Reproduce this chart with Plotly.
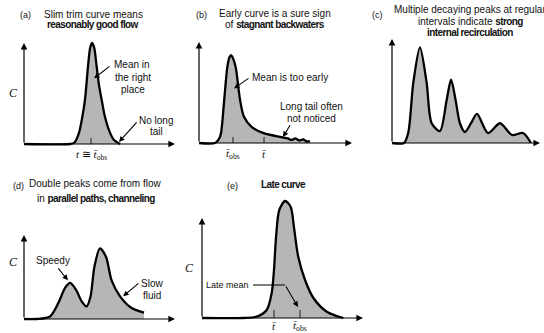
import plotly.graph_objects as go

W, H = 544, 333

# ---------------- data (t, C) ----------------
a_t = [0.0, 3.05, 3.35, 3.64, 3.84, 4.04, 4.24, 4.38, 4.50, 4.64, 4.81, 4.97, 5.14, 5.36, 5.70, 5.96, 6.36]
a_C = [0.0, 0.0, 0.015, 0.11, 0.25, 0.44, 0.77, 0.95, 1.0, 0.96, 0.77, 0.58, 0.44, 0.27, 0.11, 0.04, 0.0]

b_t = [0.0, 1.05, 1.31, 1.44, 1.65, 1.85, 1.99, 2.09, 2.22, 2.40, 2.68, 2.94, 3.44, 4.18, 5.29, 5.80, 6.05, 6.30, 6.55, 6.80, 7.05, 7.25]
b_C = [0.0, 0.0, 0.04, 0.10, 0.43, 0.75, 0.85, 0.87, 0.84, 0.75, 0.43, 0.26, 0.16, 0.10, 0.06, 0.045, 0.03, 0.045, 0.025, 0.035, 0.015, 0.02]

c_t = [0.0, 0.81, 1.10, 1.44, 1.89, 2.34, 2.68, 3.24, 3.69, 3.99, 4.30, 4.59, 4.93, 5.34, 5.74, 6.49, 7.30, 8.11, 8.85, 9.39]
c_C = [0.0, 0.0, 0.10, 0.58, 0.92, 0.58, 0.19, 0.115, 0.41, 0.61, 0.41, 0.19, 0.106, 0.19, 0.28, 0.096, 0.19, 0.077, 0.096, 0.0]

d_t = [0.0, 0.84, 1.72, 2.27, 2.72, 3.05, 3.44, 3.82, 4.15, 4.41, 4.66, 5.03, 5.43, 5.80, 6.36, 7.13, 7.95]
d_C = [0.0, 0.0, 0.03, 0.19, 0.37, 0.43, 0.35, 0.21, 0.15, 0.27, 0.62, 0.84, 0.74, 0.46, 0.27, 0.13, 0.075]

e_t = [0.0, 2.57, 3.40, 4.02, 4.33, 4.47, 4.60, 4.80, 5.16, 5.51, 5.71, 5.98, 6.40, 6.92, 7.75, 8.78]
e_C = [0.0, 0.0, 0.013, 0.08, 0.25, 0.48, 0.81, 1.08, 1.17, 1.11, 0.91, 0.61, 0.38, 0.20, 0.063, 0.0]

# tick marks (t positions) and their labels
a_ticks = [4.44]
a_tick_labels = ["<i>t</i> ≅ <i>t\u0304</i><sub>obs</sub>"]
b_ticks = [2.22, 4.25]
b_tick_labels = ["<i>t\u0304</i><sub>obs</sub>", "<i>t\u0304</i>"]
e_ticks = [4.47, 6.09]
e_tick_labels = ["<i>t\u0304</i>", "<i>t\u0304</i><sub>obs</sub>"]

# ---------------- layout of panels (pixel boxes) ----------------
panels = {
    "a": dict(X0=24, X1=175, YB=144, YT=43, n=1, xr=[-0.3, 10.3]),
    "b": dict(X0=199, X1=352, YB=143, YT=42, n=2, xr=[-0.3, 10.3]),
    "c": dict(X0=392, X1=540, YB=143, YT=39, n=3, xr=[-0.3, 10.25]),
    "d": dict(X0=24, X1=175, YB=319, YT=235, n=4, xr=[-0.3, 10.3]),
    "e": dict(X0=202, X1=363, YB=318, YT=218, n=5, xr=[-0.3, 10.3]),
}
YR = [-0.08, 1.3]

SANS = "Liberation Sans, Arial, sans-serif"
SERIF = "Liberation Serif, Times New Roman, serif"
FILL = "#b6b6b6"

fig = go.Figure()
layout = {}

def refs(p):
    n = panels[p]["n"]
    s = "" if n == 1 else str(n)
    return "x" + s, "y" + s, "xaxis" + s, "yaxis" + s

for p, d in panels.items():
    xr, xn, xa, ya = refs(p)
    sx = (d["X1"] - d["X0"]) / 10.0
    sy = (d["YB"] - d["YT"])
    xd = [(d["X0"] + d["xr"][0] * sx) / W, (d["X0"] + d["xr"][1] * sx) / W]
    yd = [(H - (d["YB"] - YR[0] * sy)) / H, (H - (d["YB"] - YR[1] * sy)) / H]
    layout[xa] = dict(domain=xd, range=d["xr"], visible=False, anchor=xn)
    layout[ya] = dict(domain=yd, range=YR, visible=False, anchor=xr)

curves = {"a": (a_t, a_C), "b": (b_t, b_C), "c": (c_t, c_C), "d": (d_t, d_C), "e": (e_t, e_C)}
for p, (t, c) in curves.items():
    xr, yr, _, _ = refs(p)
    fig.add_trace(go.Scatter(x=t, y=c, xaxis=xr, yaxis=yr, mode="lines",
                             line=dict(color="black", width=2.3, shape="spline", smoothing=0.8),
                             fill="tozeroy", fillcolor=FILL, hoverinfo="skip", showlegend=False))

ticks = {"a": (a_ticks, 0.06), "b": (b_ticks, 0.06), "e": (e_ticks, 0.08)}
for p, (tk, h) in ticks.items():
    xr, yr, _, _ = refs(p)
    xs, ys = [], []
    for v in tk:
        xs += [v, v, None]
        ys += [0, h, None]
    fig.add_trace(go.Scatter(x=xs, y=ys, xaxis=xr, yaxis=yr, mode="lines",
                             line=dict(color="#222", width=1), hoverinfo="skip", showlegend=False))

ann = []

def arrow(p, x, y, ax, ay, width=1.1, size=1.0):
    xr, yr, _, _ = refs(p)
    ann.append(dict(x=x, y=y, ax=ax, ay=ay, xref=xr, yref=yr, axref=xr, ayref=yr,
                    text="", showarrow=True, arrowhead=2, arrowsize=size,
                    arrowwidth=width, arrowcolor="black", standoff=0, startstandoff=0))

def txt(x, y, s, size=10, family=SANS, anchor="center", color="#111"):
    ann.append(dict(x=x / W, y=1 - y / H, xref="paper", yref="paper", text=s, showarrow=False,
                    xanchor=anchor, yanchor="middle", font=dict(size=size, family=family, color=color)))

def tick_label(p, t, y, s):
    d = panels[p]
    x = d["X0"] + t * (d["X1"] - d["X0"]) / 10.0
    txt(x, y, s, size=11, family=SERIF)

# axes (arrows)
for p in panels:
    arrow(p, 10, 0, 0, 0, width=1.2, size=1.1)
    arrow(p, 0, 1, 0, 0, width=1.2, size=1.1)

def B(s):
    return '<span style="letter-spacing:-0.6px"><b>%s</b></span>' % s

# (a)
txt(25, 15, "(a)", size=9)
txt(93, 14, "Slim trim curve means")
txt(93, 25, B("reasonably good flow"))
txt(13, 93, "<i>C</i>", size=12, family=SERIF)
txt(132, 65, "Mean in")
txt(133, 77, "the right")
txt(133, 89, "place")
arrow("a", 4.64, 0.65, 5.76, 0.78)
txt(156, 120, "No long")
txt(156, 132, "tail")
arrow("a", 6.29, 0.02, 7.55, 0.23)
for t, s in zip(a_ticks, a_tick_labels):
    tick_label("a", t, 155, s)

# (b)
txt(201, 15, "(b)", size=9)
txt(275, 13, "Early curve is a sure sign")
txt(275, 25, "of " + B("stagnant backwaters"))
txt(290, 77, "Mean is too early")
arrow("b", 2.29, 0.54, 3.33, 0.65)
txt(311, 107, "Long tail often")
txt(311, 118, "not noticed")
arrow("b", 5.49, 0.06, 6.01, 0.19)
for t, s in zip(b_ticks, b_tick_labels):
    tick_label("b", t, 154, s)

# (c)
txt(377, 15, "(c)", size=9)
txt(470, 10, "Multiple decaying peaks at regular")
txt(470, 22, "intervals indicate " + B("strong"))
txt(470, 33, B("internal recirculation"))

# (d)
txt(18, 186, "(d)", size=9)
txt(95, 183, "Double peaks come from flow")
txt(96, 198, "in " + B("parallel paths, channeling"))
txt(13, 262, "<i>C</i>", size=12, family=SERIF)
txt(53, 260, "Speedy")
arrow("d", 2.91, 0.46, 2.19, 0.62)
txt(152, 283, "Slow")
txt(152, 295, "fluid")
arrow("d", 6.56, 0.27, 7.68, 0.44)

# (e)
txt(232, 186, "(e)", size=9)
txt(283, 184, B("Late curve"))
txt(189, 268, "<i>C</i>", size=12, family=SERIF)
txt(251, 285, "Late mean", size=9, anchor="right")
fig.add_trace(go.Scatter(x=[3.17, 5.16], y=[0.33, 0.33], xaxis="x5", yaxis="y5", mode="lines",
                         line=dict(color="black", width=1.1), hoverinfo="skip", showlegend=False))
arrow("e", 5.96, 0.11, 5.16, 0.33)
for t, s in zip(e_ticks, e_tick_labels):
    tick_label("e", t, 326, s)

fig.update_layout(width=W, height=H, margin=dict(l=0, r=0, t=0, b=0), autosize=False,
                  paper_bgcolor="white", plot_bgcolor="rgba(0,0,0,0)", showlegend=False,
                  annotations=ann, **layout)

fig.write_html("out.html")
